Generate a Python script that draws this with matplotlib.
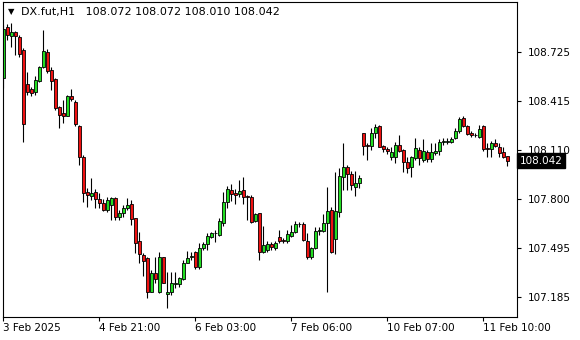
import matplotlib
matplotlib.use('Agg')
import matplotlib.pyplot as plt
import numpy as np

# DX.fut H1 - свечи (O/H/L/C)
opens = [
    108.560, 108.878, 108.825, 108.850, 108.815, 108.735, 108.522, 108.489, 108.474, 108.543,
    108.627, 108.725, 108.610, 108.552, 108.376, 108.342, 108.324, 108.447, 108.408, 108.259,
    108.063, 107.845, 107.820, 107.845, 107.801, 107.774, 107.732, 107.764, 107.806, 107.690,
    107.712, 107.743, 107.770, 107.680, 107.540, 107.450, 107.433, 107.220, 107.339, 107.220,
    107.436, 107.206, 107.220, 107.268, 107.266, 107.300, 107.402, 107.436, 107.471, 107.377,
    107.492, 107.519, 107.565, 107.586, 107.576, 107.653, 107.781, 107.856, 107.837, 107.833,
    107.858, 107.820, 107.812, 107.665, 107.712, 107.471, 107.481, 107.519, 107.492, 107.565,
    107.542, 107.540, 107.571, 107.592, 107.643, 107.645, 107.540, 107.436, 107.492, 107.601,
    107.603, 107.651, 107.732, 107.549, 107.722, 107.941, 108.004, 107.958, 107.878, 107.903,
    108.213, 108.140, 108.134, 108.213, 108.259, 108.134, 108.115, 108.063, 108.063, 108.140,
    108.108, 108.035, 108.000, 108.056, 108.108, 108.046, 108.098, 108.050, 108.088, 108.104,
    108.159, 108.161, 108.161, 108.182, 108.230, 108.307, 108.259, 108.217, 108.204, 108.192,
    108.259, 108.121, 108.113, 108.154, 108.125, 108.098, 108.072]
highs = [
    108.892, 108.899, 108.907, 108.855, 108.830, 108.748, 108.599, 108.502, 108.572, 108.635,
    108.861, 108.740, 108.631, 108.558, 108.384, 108.422, 108.453, 108.489, 108.422, 108.265,
    108.077, 107.868, 107.931, 107.862, 107.837, 107.799, 107.812, 107.816, 107.812, 107.732,
    107.764, 107.806, 107.795, 107.682, 107.592, 107.465, 107.440, 107.356, 107.440, 107.471,
    107.440, 107.345, 107.345, 107.345, 107.314, 107.419, 107.477, 107.471, 107.477, 107.523,
    107.534, 107.586, 107.596, 107.607, 107.680, 107.847, 107.883, 107.895, 107.862, 107.920,
    107.937, 107.826, 107.826, 107.712, 107.713, 107.632, 107.540, 107.534, 107.540, 107.607,
    107.555, 107.607, 107.638, 107.665, 107.659, 107.659, 107.586, 107.502, 107.628, 107.628,
    107.707, 107.877, 107.753, 107.972, 107.994, 108.151, 108.014, 107.979, 107.977, 107.952,
    108.217, 108.151, 108.245, 108.272, 108.265, 108.140, 108.125, 108.125, 108.161, 108.203,
    108.113, 108.063, 108.071, 108.182, 108.125, 108.176, 108.108, 108.151, 108.154, 108.176,
    108.182, 108.182, 108.188, 108.245, 108.317, 108.322, 108.265, 108.230, 108.217, 108.265,
    108.265, 108.154, 108.167, 108.176, 108.154, 108.125, 108.072]
lows = [
    108.497, 108.798, 108.756, 108.704, 108.693, 108.161, 108.453, 108.449, 108.453, 108.537,
    108.621, 108.593, 108.485, 108.359, 108.246, 108.276, 108.322, 108.416, 108.259, 108.014,
    107.784, 107.753, 107.795, 107.743, 107.743, 107.729, 107.722, 107.670, 107.670, 107.670,
    107.690, 107.732, 107.638, 107.461, 107.398, 107.318, 107.179, 107.216, 107.273, 107.210,
    107.273, 107.116, 107.199, 107.241, 107.251, 107.293, 107.398, 107.419, 107.360, 107.360,
    107.481, 107.481, 107.555, 107.534, 107.569, 107.632, 107.743, 107.791, 107.770, 107.812,
    107.770, 107.670, 107.649, 107.659, 107.419, 107.461, 107.471, 107.481, 107.481, 107.523,
    107.523, 107.523, 107.565, 107.586, 107.628, 107.540, 107.423, 107.423, 107.488, 107.576,
    107.596, 107.220, 107.461, 107.455, 107.690, 107.858, 107.858, 107.858, 107.822, 107.868,
    108.077, 108.046, 108.108, 108.182, 108.127, 108.098, 108.083, 108.046, 108.025, 108.098,
    107.972, 107.966, 107.937, 108.046, 108.014, 108.035, 108.035, 108.035, 108.077, 108.077,
    108.140, 108.146, 108.154, 108.176, 108.217, 108.251, 108.203, 108.192, 108.192, 108.182,
    108.104, 108.066, 108.066, 108.125, 108.066, 108.056, 108.010]
closes = [
    108.867, 108.830, 108.850, 108.825, 108.710, 108.272, 108.474, 108.468, 108.547, 108.627,
    108.729, 108.606, 108.541, 108.370, 108.328, 108.322, 108.449, 108.428, 108.272, 108.066,
    107.841, 107.824, 107.837, 107.803, 107.778, 107.732, 107.795, 107.806, 107.690, 107.712,
    107.743, 107.764, 107.678, 107.527, 107.455, 107.414, 107.220, 107.339, 107.298, 107.436,
    107.277, 107.220, 107.273, 107.277, 107.304, 107.402, 107.433, 107.444, 107.377, 107.492,
    107.519, 107.569, 107.590, 107.590, 107.663, 107.781, 107.862, 107.831, 107.828, 107.851,
    107.812, 107.812, 107.659, 107.705, 107.471, 107.513, 107.519, 107.502, 107.523, 107.540,
    107.538, 107.582, 107.592, 107.645, 107.646, 107.544, 107.436, 107.492, 107.603, 107.605,
    107.649, 107.726, 107.471, 107.726, 107.945, 108.000, 107.958, 107.887, 107.900, 107.931,
    108.135, 108.134, 108.213, 108.251, 108.129, 108.113, 108.100, 108.098, 108.140, 108.104,
    108.035, 107.994, 108.066, 108.119, 108.056, 108.104, 108.050, 108.094, 108.104, 108.161,
    108.163, 108.165, 108.176, 108.230, 108.301, 108.259, 108.209, 108.203, 108.201, 108.238,
    108.113, 108.117, 108.154, 108.134, 108.092, 108.063, 108.042]

x_labels = ['3 Feb 2025', '4 Feb 21:00', '6 Feb 03:00', '7 Feb 06:00', '10 Feb 07:00', '11 Feb 10:00']
y_ticks = [107.185, 107.495, 107.800, 108.110, 108.415, 108.725]
symbol = 'DX.fut,H1'

o = np.array(opens)
h = np.array(highs)
l = np.array(lows)
c = np.array(closes)
x = np.arange(len(c))
up = c >= o

fig = plt.figure(figsize=(5.8, 3.4), dpi=100)
ax = fig.add_axes([3/580, 23/340, 514/580, 315/340])

# тени
ax.vlines(x, l, h, color='black', linewidth=0.8, zorder=1)
# тела свечей
body_bot = np.minimum(o, c)
body_h = np.maximum(np.abs(c - o), 0.0005)
ax.bar(x, body_h, bottom=body_bot, width=0.78,
       color=np.where(up, '#22dd22', '#ee1111').tolist(),
       edgecolor='black', linewidth=0.6, zorder=2)

ax.set_xlim(-0.08, 128.4)
ax.set_ylim(107.0615, 109.036)

for s in ax.spines.values():
    s.set_linewidth(0.8)
    s.set_color('black')

ax.yaxis.tick_right()
ax.set_yticks(y_ticks)
ax.set_yticklabels(['%.3f' % v for v in y_ticks])
ax.set_xticks(list(range(0, len(c), 24)))
ax.set_xticklabels(x_labels, ha='left')
ax.tick_params(axis='both', direction='out', length=3, width=0.8,
               labelsize=7.5, colors='black')
ax.tick_params(axis='y', pad=4.5)
ax.tick_params(axis='x', pad=1)

# заголовок
fig.text(8/580, 1 - 12/340, '\u25bc', fontsize=6, va='center', ha='left')
fig.text(21/580, 1 - 12.5/340, symbol + '   ' + ' '.join('%.3f' % v for v in [o[-1], h[-1], l[-1], c[-1]]),
         fontsize=8, va='center', ha='left')

# текущая цена
ax.text(1.005, c[-1], '%.3f' % c[-1], transform=ax.get_yaxis_transform(),
        fontsize=7.5, color='white', va='center', ha='left', zorder=6, clip_on=False,
        bbox=dict(boxstyle='square,pad=0.25', facecolor='black', edgecolor='black'))

fig.savefig('out.png', dpi=100)
